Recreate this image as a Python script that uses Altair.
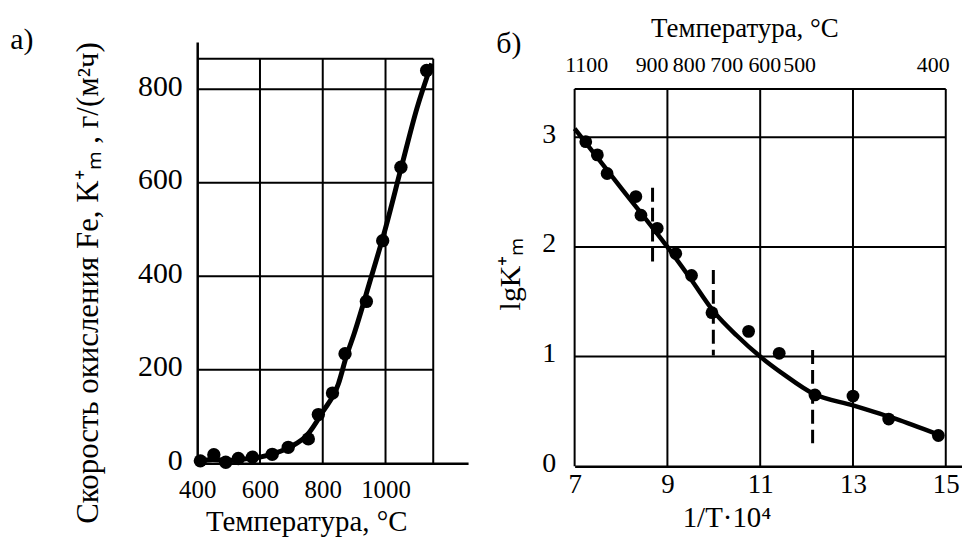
import altair as alt
import pandas as pd

FONT = "Liberation Serif, Times New Roman, serif"

# ---------------- panel а) ----------------
a_temp = [410, 453, 491, 531, 576, 639, 690, 754, 786, 831, 871, 939, 991, 1049, 1131]
a_rate = [5, 18, 2, 10, 13, 19, 34, 52, 104, 150, 234, 346, 476, 633, 840]
a_curve_temp = [400, 450, 500, 550, 600, 650, 700, 750, 800, 850, 875, 900, 950, 1000, 1050, 1100, 1147]
a_curve_rate = [3, 8, 6, 9, 13, 22, 36, 60, 110, 170, 228, 277, 388, 503, 632, 759, 855]
a_xticks = [400, 600, 800, 1000]
a_yticks = [0, 200, 400, 600, 800]
a_vgrid = [600, 800, 1000, 1152]
a_hgrid = [200, 400, 600, 800, 865]
a_xdomain = [400, 1263]
a_ydomain = [0, 901]

# ---------------- panel б) ----------------
b_invT = [7.24, 7.49, 7.70, 8.32, 8.43, 8.78, 9.18, 9.52, 9.96, 10.75, 11.41, 12.18, 13.0, 13.77, 14.84]
b_lgK = [2.96, 2.84, 2.67, 2.46, 2.29, 2.17, 1.94, 1.74, 1.40, 1.23, 1.03, 0.65, 0.64, 0.43, 0.28]
b_curve_invT = [7.0, 8.0, 9.0, 9.5, 10.0, 10.5, 11.0, 11.5, 12.15, 13.0, 14.0, 14.95]
b_curve_lgK = [3.08, 2.54, 2.00, 1.71, 1.41, 1.19, 1.00, 0.84, 0.66, 0.555, 0.42, 0.27]
b_dash_invT = [8.68, 9.99, 12.13]
b_dash_top = [2.54, 1.79, 1.06]
b_dash_bottom = [1.85, 1.01, 0.21]
b_xticks = [7, 9, 11, 13, 15]
b_yticks = [0, 1, 2, 3]
b_vgrid = [7, 9, 11, 13, 15]
b_hgrid = [1, 2, 3, 3.44]
b_top_labels = ["1100", "900", "800", "700", "600", "500", "400"]
b_top_label_pos = [7.26, 8.67, 9.47, 10.28, 11.10, 11.85, 14.73]
b_xdomain = [7, 15.35]
b_ydomain = [0, 3.87]

A_W, A_H = 272, 423
B_W, B_H = 389, 426


def axis(values, size, pad, offset=0, domain=True):
    return alt.Axis(values=values, title=None, ticks=False, tickSize=0, grid=False,
                    domain=domain, domainColor="black", domainWidth=2.5,
                    labelFont=FONT, labelFontSize=size, labelColor="black",
                    labelPadding=pad, labelOffset=offset, labelFlush=False,
                    labelOverlap=False, format="d")


def make_x(field, domain, values, size, pad):
    return alt.X(field, type="quantitative",
                 scale=alt.Scale(domain=domain, nice=False, zero=False),
                 axis=axis(values, size, pad))


def make_y(field, domain, values, size, pad, offset, show_domain=True):
    return alt.Y(field, type="quantitative",
                 scale=alt.Scale(domain=domain, nice=False, zero=False),
                 axis=axis(values, size, pad, offset, show_domain))


def txt(label, x, y, size, angle=0):
    return alt.Chart(pd.DataFrame({"t": [label]})).mark_text(
        font=FONT, fontSize=size, color="black", angle=angle,
        align="center", baseline="middle"
    ).encode(x=alt.value(x), y=alt.value(y), text="t:N")


# ----- panel а) layers -----
aX = lambda f: make_x(f, a_xdomain, a_xticks, 25, 14)
aY = lambda f: make_y(f, a_ydomain, a_yticks, 30, 15, -3)

a_v = pd.DataFrame({"x": a_vgrid, "y0": [0] * len(a_vgrid), "y1": [a_hgrid[-1]] * len(a_vgrid)})
a_h = pd.DataFrame({"y": a_hgrid, "x0": [a_xdomain[0]] * len(a_hgrid), "x1": [a_vgrid[-1]] * len(a_hgrid)})

a_vrules = alt.Chart(a_v).mark_rule(color="black", strokeWidth=2).encode(
    x=aX("x"), y=aY("y0"), y2="y1")
a_hrules = alt.Chart(a_h).mark_rule(color="black", strokeWidth=2).encode(
    y=aY("y"), x=aX("x0"), x2="x1")
a_line = alt.Chart(pd.DataFrame({"t": a_curve_temp, "r": a_curve_rate})).mark_line(
    color="black", strokeWidth=5, interpolate="monotone").encode(x=aX("t"), y=aY("r"))
a_pts = alt.Chart(pd.DataFrame({"t": a_temp, "r": a_rate})).mark_point(
    filled=True, color="black", opacity=1, size=180).encode(x=aX("t"), y=aY("r"))

panel_a = alt.layer(
    a_vrules, a_hrules, a_line, a_pts,
    txt("а)", -176, -2, 30),
    txt("Скорость окисления Fe, K⁺ₘ , г/(м²ч)", -109, 242, 31, angle=270),
    txt("Температура, °C", 110, 482, 29),
).properties(width=A_W, height=A_H)

# ----- panel б) layers -----
bX = lambda f: make_x(f, b_xdomain, b_xticks, 27, 5)
bY = lambda f: make_y(f, b_ydomain, b_yticks, 28, 19, -3, show_domain=False)

b_v = pd.DataFrame({"x": b_vgrid, "y0": [0] * len(b_vgrid), "y1": [b_hgrid[-1]] * len(b_vgrid)})
b_h = pd.DataFrame({"y": b_hgrid, "x0": [b_vgrid[0]] * len(b_hgrid), "x1": [b_vgrid[-1]] * len(b_hgrid)})
b_d = pd.DataFrame({"x": b_dash_invT, "y0": b_dash_top, "y1": b_dash_bottom})

b_vrules = alt.Chart(b_v).mark_rule(color="black", strokeWidth=2).encode(
    x=bX("x"), y=bY("y0"), y2="y1")
b_hrules = alt.Chart(b_h).mark_rule(color="black", strokeWidth=2).encode(
    y=bY("y"), x=bX("x0"), x2="x1")
b_dash = alt.Chart(b_d).mark_rule(color="black", strokeWidth=3, strokeDash=[14, 6]).encode(
    x=bX("x"), y=bY("y0"), y2="y1")
b_line = alt.Chart(pd.DataFrame({"x": b_curve_invT, "y": b_curve_lgK})).mark_line(
    color="black", strokeWidth=4.5, interpolate="monotone").encode(x=bX("x"), y=bY("y"))
b_pts = alt.Chart(pd.DataFrame({"x": b_invT, "y": b_lgK})).mark_point(
    filled=True, color="black", opacity=1, size=165).encode(x=bX("x"), y=bY("y"))
b_top = alt.Chart(pd.DataFrame({"x": b_top_label_pos, "t": b_top_labels})).mark_text(
    font=FONT, fontSize=22, color="black", align="center", baseline="middle").encode(
    x=bX("x"), y=alt.value(23), text="t:N")

panel_b = alt.layer(
    b_vrules, b_hrules, b_dash, b_line, b_pts, b_top,
    txt("б)", -66, 2, 30),
    txt("Температура, °C", 171, -13, 27),
    txt("lgK⁺ₘ", -64, 233, 30, angle=270),
    txt("1/T·10⁴", 153, 478, 29),
).properties(width=B_W, height=B_H)

chart = alt.hconcat(panel_a, panel_b, spacing=107, bounds="flush").properties(
    padding={"left": 2, "top": 6, "right": 0, "bottom": 0}
).configure_view(stroke=None)

chart.save("out.html", embed_options={"renderer": "svg", "actions": False})
